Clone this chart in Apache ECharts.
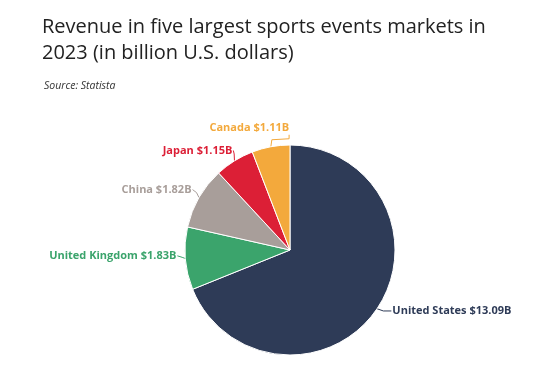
<!DOCTYPE html>
<html><head><meta charset="utf-8">
<script src="https://cdn.jsdelivr.net/npm/echarts@6/dist/echarts.min.js"></script>
<style>html,body{margin:0;padding:0;background:#fff}#c{width:556px;height:370px}</style>
</head><body><div id="c"></div>
<script>
const categories = ["United States", "United Kingdom", "China", "Japan", "Canada"];
const values = [13.09, 1.83, 1.82, 1.15, 1.11];
const colors = ["#2e3b57", "#3ba46c", "#a89e9a", "#dc1f36", "#f3a93c"];
const chart = echarts.init(document.getElementById('c'));
const shifts = [[3, 0], [4, -3], [5, -6], [9, -7], [28, -15]];
chart.setOption({
  animation: false,
  title: [{
    text: 'Revenue in five largest sports events markets in\n2023 (in billion U.S. dollars)',
    left: 42, top: 14, padding: 0,
    textStyle: {fontFamily: 'Open Sans', fontWeight: 'normal', fontSize: 20, color: '#222', lineHeight: 26}
  }, {
    text: 'Source: Statista',
    left: 44, top: 81, padding: 0,
    textStyle: {fontFamily: 'Open Sans', fontStyle: 'italic', fontWeight: 'normal', fontSize: 10.5, color: '#333'}
  }],
  series: [{
    type: 'pie',
    center: [290, 250],
    radius: [0, 105],
    startAngle: 90,
    clockwise: true,
    data: categories.map((c, i) => ({name: c, value: values[i], itemStyle: {color: colors[i]}, label: {color: colors[i]}, labelLine: {lineStyle: {color: colors[i]}}})),
    itemStyle: {borderColor: '#fff', borderWidth: 1},
    label: {
      formatter: p => p.name + ' $' + p.value.toFixed(2) + 'B',
      fontFamily: 'Open Sans', fontWeight: 'bold', fontSize: 11
    },
    labelLine: {length: 4, length2: 4, lineStyle: {width: 1}},
    labelLayout: p => {
      const [dx, dy] = shifts[p.dataIndex];
      const pts = p.labelLinePoints;
      if (!pts) return {dx, dy};
      const r = p.labelRect;
      const p0 = pts[0];
      let np;
      if (p.dataIndex === 4) {
        const right = r.x + r.width + dx;
        np = [p0.slice(), [p0[0] + 1, p0[1] - 7], [right, p0[1] - 8], [right, p0[1] - 12]];
      } else if (p.dataIndex === 0) {
        np = [p0.slice(), [pts[1][0] + dx, pts[1][1] + dy], [r.x + dx - 1, pts[2][1] + dy]];
      } else {
        np = [p0.slice(), [pts[1][0] + dx * 0.2, pts[1][1] + dy * 0.5], [r.x + r.width + dx + 1, pts[2][1] + dy]];
      }
      return {dx, dy, labelLinePoints: np};
    }
  }]
});
</script></body></html>
